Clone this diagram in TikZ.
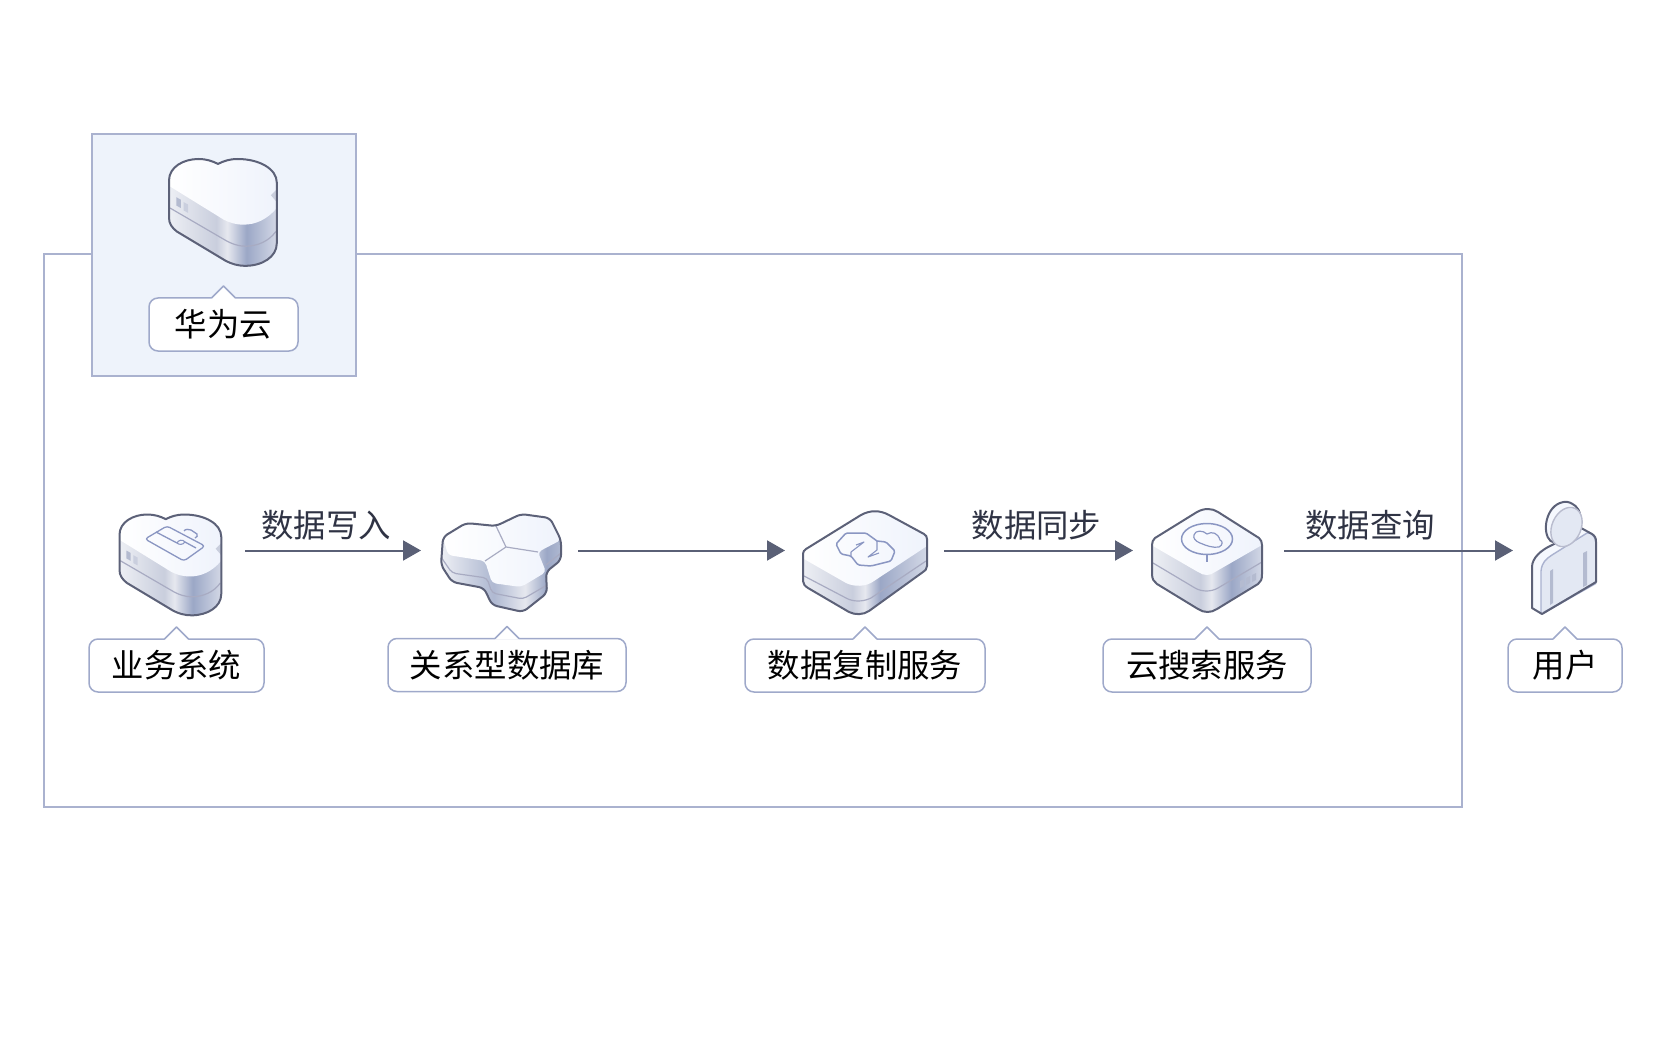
\documentclass[tikz,border=0pt]{standalone}
\usepackage{fontspec}
\usepackage{tikz}
\usetikzlibrary{arrows.meta}
\newfontfamily\cjk{Noto Sans CJK SC}
\definecolor{frameline}{HTML}{AAB2CF}
\definecolor{boxfill}{HTML}{EEF3FB}
\definecolor{tagline}{HTML}{9FA9CA}
\definecolor{flowline}{HTML}{5A6076}
\definecolor{flowtextcol}{HTML}{2F3344}
\definecolor{iconedge}{HTML}{5C6178}
\definecolor{seamcol}{HTML}{A8ABC2}
\definecolor{glyphcol}{HTML}{8A96C2}
\definecolor{portcol}{HTML}{B4BBD0}
\definecolor{sideA}{HTML}{EDEFF4}
\definecolor{sideB}{HTML}{C9CEDD}
\definecolor{sideC}{HTML}{E6E8EF}
\definecolor{sideD}{HTML}{9BA7C6}
\definecolor{sideE}{HTML}{D3D8E6}
\definecolor{topface}{HTML}{EFF3FC}
\definecolor{userface}{HTML}{E3E8F3}
\definecolor{userside}{HTML}{F5F8FE}
\pgfdeclarehorizontalshading{cloudside}{100bp}{color(0bp)=(sideA); color(25bp)=(sideA); color(47bp)=(sideB); color(52bp)=(sideC); color(61bp)=(sideD); color(75bp)=(sideE); color(100bp)=(sideE)}
\pgfdeclarehorizontalshading{plateside}{100bp}{color(0bp)=(sideA); color(25bp)=(sideA); color(45bp)=(sideB); color(50bp)=(sideC); color(56bp)=(sideD); color(75bp)=(sideE); color(100bp)=(sideE)}
\pgfdeclarehorizontalshading{hexside}{100bp}{color(0bp)=(sideA); color(25bp)=(sideA); color(43bp)=(sideD!70!white); color(47bp)=(sideD!80!white); color(60bp)=(sideC); color(69bp)=(sideD); color(75bp)=(sideD!80!white); color(100bp)=(sideD!80!white)}
\tikzset{
  framebox/.style={draw=frameline,line width=2pt},
  tag/.style={draw=tagline,fill=white,line width=1.5pt,rounded corners=9pt,inner sep=0pt,outer sep=0pt,minimum height=53pt,font=\fontsize{32.4}{36}\selectfont\cjk,text=black},
  flowtext/.style={inner sep=0pt,font=\fontsize{32.4}{36}\selectfont\cjk,text=flowtextcol},
  iconspot/.style={inner sep=0pt,outer sep=0pt,minimum height=4pt},
  flow/.style={draw=flowline,line width=2pt,-{Triangle[length=18pt,width=20pt]}},
  iconline/.style={draw=iconedge,line width=2pt,line join=round},
  seam/.style={draw=seamcol,line width=1.2pt},
  glyph/.style={draw=glyphcol,line width=1.5pt,line join=round},
  tagtip/.pic={
    \fill[white] (-12,1)--(0,-12)--(12,1)--cycle;
    \draw[tagline,line width=1.5pt,line join=round] (-12,0)--(0,-12)--(12,0);
  },
  cloudbox/.pic={
    \shade[shading=cloudside] (0,22) .. controls (0,8) and (15,0) .. (30,0) .. controls (38,0) and (44,2) .. (50,5) .. controls (56,2) and (62,0) .. (70,0) .. controls (92,0) and (110,10) .. (110,24) -- (110,86) .. controls (110,100) and (95,109) .. (78,109) .. controls (70,109) and (64,107) .. (58,104) -- (8,74) .. controls (3,70) and (0,66) .. (0,60) -- cycle;
    \shade[left color=white,right color=topface] (0,22) .. controls (0,8) and (15,0) .. (30,0) .. controls (38,0) and (44,2) .. (50,5) .. controls (56,2) and (62,0) .. (70,0) .. controls (92,0) and (110,10) .. (110,24) -- (110,50) .. controls (100,62) and (88,67) .. (76,67) .. controls (68,67) and (62,65) .. (56,62) -- (1,28) -- cycle;
    \fill[sideB] (110,31) -- (104,37) -- (110,44) -- cycle;
    \draw[seam] (1,50) -- (56,82) .. controls (64,87) and (72,89) .. (78,89) .. controls (90,89) and (102,84) .. (109,74);
    \fill[portcol] (7.5,39) -- (12,41.5) -- (12,50) -- (7.5,47.5) -- cycle;
    \fill[portcol!70!white] (15,44) -- (19.5,46.5) -- (19.5,55) -- (15,52.5) -- cycle;
    \draw[iconline] (0,22) .. controls (0,8) and (15,0) .. (30,0) .. controls (38,0) and (44,2) .. (50,5) .. controls (56,2) and (62,0) .. (70,0) .. controls (92,0) and (110,10) .. (110,24) -- (110,86) .. controls (110,100) and (95,109) .. (78,109) .. controls (70,109) and (64,107) .. (58,104) -- (8,74) .. controls (3,70) and (0,66) .. (0,60) -- cycle;
  }
}
\begin{document}
\begin{tikzpicture}[x=1pt,y=-1pt]
  \useasboundingbox (0,0) rectangle (1680,1040);
  \draw[framebox] (44,254) rectangle (1462,806.5);
  \fill[boxfill] (92,134) rectangle (356,376);
  \draw[framebox] (92,134) rectangle (356,376);
  % clouds
  \pic[scale=.98] at (169,159) {cloudbox};
  \pic[scale=.925] at (119.5,514.5) {cloudbox};
  \begin{scope}[shift={(112,508)}]
    \draw[glyph,line width=1.3pt,rounded corners=3pt] (33,31) -- (55,18) -- (93,38) -- (72,53) -- cycle;
    \draw[glyph,line width=1.3pt] (72,23) .. controls (73,21) and (77,21) .. (79,22) -- (85,26) .. controls (86,28) and (85,29) .. (83,30);
    \draw[glyph,line width=1.3pt] (44,24) -- (65,35) (73,34) -- (84,40);
    \draw[glyph,line width=1.1pt] (65,35) .. controls (66,32) and (71,31) .. (73,34) .. controls (71,37) and (67,37) .. (65,35);
  \end{scope}
  % hexagons
  \begin{scope}[shift={(440,514)}]
    \shade[shading=hexside,rounded corners=5pt] (3,23) -- (26,9) -- (56,12) -- (81,0) -- (110,4) -- (121,26) -- (121,46) -- (106,58) -- (107,79) -- (83,98) -- (52,91) -- (44,74) -- (12,68) -- (1,51) -- cycle;
    \draw[seam,rounded corners=4pt] (1,43) -- (12,59) -- (47,64) -- (52,79) -- (83,85) -- (107,71);
    \draw[seam] (106,51) -- (121,39);
    \shade[left color=white,right color=topface,rounded corners=4pt] (3,23) -- (26,9) -- (56,12) -- (81,0) -- (110,4) -- (121,26) -- (98,38) -- (106,58) -- (81,73) -- (52,69) -- (45,47) -- (8,41) -- cycle;
    \draw[seam] (56,12) -- (66,33) -- (98,38) (66,33) -- (45,47);
    \draw[iconline,rounded corners=5pt] (3,23) -- (26,9) -- (56,12) -- (81,0) -- (110,4) -- (121,26) -- (121,46) -- (106,58) -- (107,79) -- (83,98) -- (52,91) -- (44,74) -- (12,68) -- (1,51) -- cycle;
  \end{scope}
  % replication plate
  \begin{scope}[shift={(796,506)}]
    \shade[shading=plateside] (7,48) .. controls (7,46) and (8,44) .. (10,43) -- (65,9) .. controls (74,4) and (84,4) .. (93,9) -- (128,28) .. controls (130,29) and (131,31) .. (131,33) -- (131,60) .. controls (131,63) and (129,65) .. (127,66) -- (73,105) .. controls (67,109) and (59,109) .. (53,106) -- (12,82) .. controls (9,80) and (7,78) .. (7,75) -- cycle;
    \shade[left color=white,right color=topface] (7,48) .. controls (7,46) and (8,44) .. (10,43) -- (65,9) .. controls (74,4) and (84,4) .. (93,9) -- (128,28) .. controls (130,29) and (131,31) .. (131,33) -- (131,40) -- (78,75) .. controls (70,81) and (58,81) .. (50,77) -- (8,53) -- cycle;
    \draw[seam] (8,70) -- (50,92) .. controls (57,96) and (67,96) .. (75,92) -- (130,55);
    \draw[glyph,rounded corners=1.5pt] (81,35) -- (70,27) -- (50,27) -- (40,38) -- (45,48) -- (55,50) -- (62,59) -- (75,60) -- (95,55) -- (99,45) -- (90,36) -- (81,35);
    \draw[glyph,line width=1.1pt] (60,39) -- (68,36) -- (55,46) -- (55,50) (83,47) -- (72,51) -- (81,44) -- (81,35);
    \draw[iconline] (7,48) .. controls (7,46) and (8,44) .. (10,43) -- (65,9) .. controls (74,4) and (84,4) .. (93,9) -- (128,28) .. controls (130,29) and (131,31) .. (131,33) -- (131,60) .. controls (131,63) and (129,65) .. (127,66) -- (73,105) .. controls (67,109) and (59,109) .. (53,106) -- (12,82) .. controls (9,80) and (7,78) .. (7,75) -- cycle;
  \end{scope}
  % search cube
  \begin{scope}[shift={(1145,503)}]
    \shade[shading=cloudside] (7,42) .. controls (7,39) and (8,37) .. (10,35) -- (52,9) .. controls (59,5) and (67,5) .. (73,9) -- (114,35) .. controls (116,37) and (117,39) .. (117,42) -- (117,71) .. controls (117,76) and (116,79) .. (113,81) -- (72,106) .. controls (66,110) and (59,110) .. (53,106) -- (12,81) .. controls (9,79) and (7,76) .. (7,71) -- cycle;
    \shade[left color=white,right color=topface] (7,42) .. controls (7,39) and (8,37) .. (10,35) -- (52,9) .. controls (59,5) and (67,5) .. (73,9) -- (114,35) .. controls (116,37) and (117,39) .. (117,42) -- (70,69) .. controls (65,73) and (59,73) .. (53,69) -- (8,43) -- cycle;
    \draw[seam] (8,60) -- (50,85) .. controls (57,89) and (66,89) .. (73,85) -- (117,59);
    \draw[glyph] (62,36) ellipse [x radius=25.5,y radius=15.5];
    \draw[glyph] (62,52) -- (62,59);
    \draw[glyph,line width=1.2pt] (49,32) .. controls (50,27) and (58,27) .. (62,31) .. controls (67,28) and (73,30) .. (75,37) .. controls (78,38) and (78,42) .. (74,44) .. controls (68,45) and (62,43) .. (55,40) .. controls (50,38) and (48,35) .. (49,32) -- cycle;
    \fill[portcol] (95,78) -- (99,76) -- (99,83) -- (95,85) -- cycle;
    \fill[portcol] (101,75) -- (105,73) -- (105,80) -- (101,82) -- cycle;
    \fill[portcol] (107,72) -- (111,70) -- (111,77) -- (107,79) -- cycle;
    \draw[iconline] (7,42) .. controls (7,39) and (8,37) .. (10,35) -- (52,9) .. controls (59,5) and (67,5) .. (73,9) -- (114,35) .. controls (116,37) and (117,39) .. (117,42) -- (117,71) .. controls (117,76) and (116,79) .. (113,81) -- (72,106) .. controls (66,110) and (59,110) .. (53,106) -- (12,81) .. controls (9,79) and (7,76) .. (7,71) -- cycle;
  \end{scope}
  % person
  \begin{scope}[shift={(1525,495)}]
    \fill[userside] (7,72) .. controls (7,63) and (16,55) .. (27,50) -- (56,33) -- (67,39) .. controls (70,41) and (71,43) .. (71,47) -- (71,87) -- (17,119) -- (7,113) -- cycle;
    \fill[userface] (16,118) -- (16,76) .. controls (17,67) and (21,64) .. (27,60) -- (62,38) .. controls (66,37) and (70,41) .. (71,47) -- (71,87) -- cycle;
    \draw[frameline,line width=1.4pt] (16,118) -- (16,76) .. controls (17,67) and (21,64) .. (27,60) -- (62,38) .. controls (66,37) and (70,41) .. (71,47);
    \fill[portcol] (25,76) -- (28,74) -- (28,108) -- (25,110) -- cycle;
    \fill[portcol] (58,58) -- (62,56) -- (62,90) -- (58,92) -- cycle;
    \draw[frameline,line width=2pt] (18,118) -- (71,88);
    \draw[iconline] (56,33) -- (67,39) .. controls (70,41) and (71,43) .. (71,47) -- (71,87) -- (17,119) -- (7,113) -- (7,72) .. controls (7,63) and (16,55) .. (27,50) -- (33,47);
    \begin{scope}[shift={(-1.5,2)}]
      \draw[iconline,fill=userside] (27,44) .. controls (18,36) and (22,8) .. (40,5) .. controls (44,4) and (48,6) .. (52,9) .. controls (57,13) and (58,22) .. (56,30) -- (38,48) -- cycle;
      \draw[draw=seamcol!80!white,fill=userface,line width=1.4pt] (43,30) ellipse [x radius=14.5,y radius=20.5,rotate=-24];
    \end{scope}
  \end{scope}
  % labels
  \node[tag,minimum width=149pt] (cloudtag) at (223.5,324.5) {华为云};
  \node[tag,minimum width=175pt] (biztag) at (176.5,665.5) {业务系统};
  \node[tag,minimum width=238pt] (dbtag) at (507,665) {关系型数据库};
  \node[tag,minimum width=240pt] (repltag) at (865,665.5) {数据复制服务};
  \node[tag,minimum width=208pt] (searchtag) at (1207,665.5) {云搜索服务};
  \node[tag,minimum width=114pt] (usertag) at (1565,665.5) {用户};
  \pic at (cloudtag.north) {tagtip};
  \pic at (biztag.north) {tagtip};
  \pic at (dbtag.north) {tagtip};
  \pic at (repltag.north) {tagtip};
  \pic at (searchtag.north) {tagtip};
  \pic at (usertag.north) {tagtip};
  % connectors
  \node[iconspot,minimum width=104pt] (bizicon) at (170,550.5) {};
  \node[iconspot,minimum width=122pt] (dbicon) at (501,550.5) {};
  \node[iconspot,minimum width=126pt] (replicon) at (865,550.5) {};
  \node[iconspot,minimum width=110pt] (searchicon) at (1207,550.5) {};
  \node[iconspot,minimum width=65pt] (usericon) at (1564.5,550.5) {};
  \draw[flow,shorten <=23pt,shorten >=19pt] (bizicon) -- (dbicon);
  \draw[flow,shorten <=16pt,shorten >=17pt] (dbicon) -- (replicon);
  \draw[flow,shorten <=16pt,shorten >=19pt] (replicon) -- (searchicon);
  \draw[flow,shorten <=22pt,shorten >=19pt] (searchicon) -- (usericon);
  \node[flowtext] (writetext) at (326,525) {数据写入};
  \node[flowtext] (synctext) at (1036.5,525) {数据同步};
  \node[flowtext] (querytext) at (1370,525) {数据查询};
\end{tikzpicture}
\end{document}
